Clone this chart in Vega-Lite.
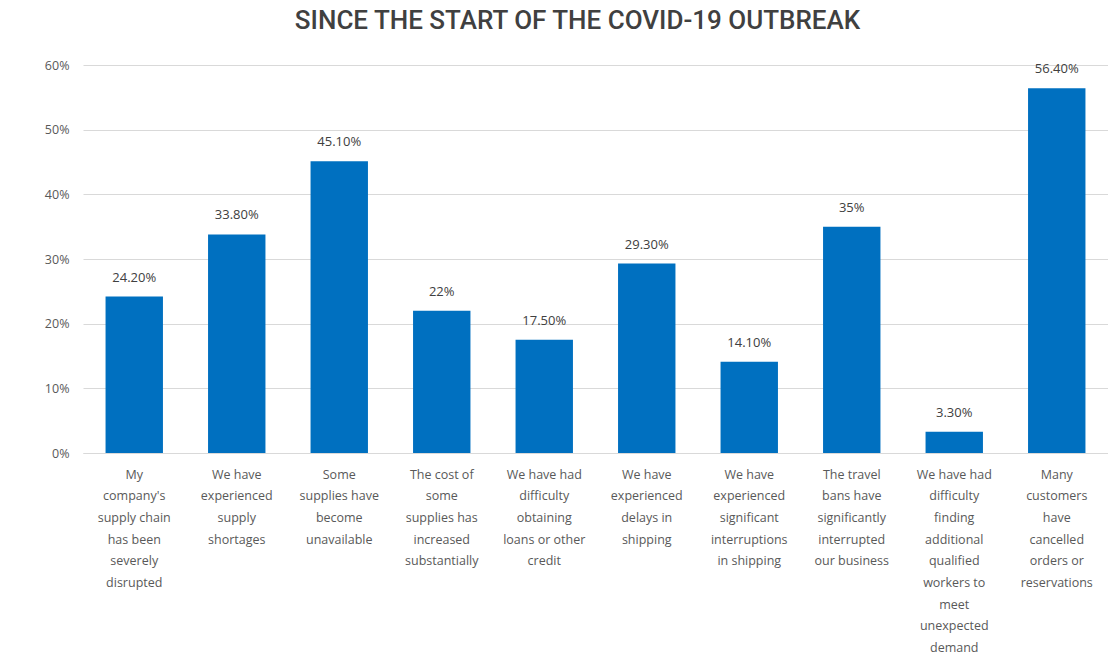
{
  "$schema": "https://vega.github.io/schema/vega-lite/v6.json",
  "autosize": "none",
  "width": 1025,
  "height": 388,
  "padding": {"left": 83, "top": 65, "right": 0, "bottom": 211},
  "background": "white",
  "title": {
    "text": "SINCE THE START OF THE COVID-19 OUTBREAK",
    "font": "Roboto",
    "fontSize": 26,
    "fontWeight": 500,
    "color": "#404040",
    "anchor": "middle",
    "offset": 25,
    "dx": -18
  },
  "data": {
    "values": [
      {"item": "My|company's|supply chain|has been|severely|disrupted", "order": 1, "share": 0.242, "label": "24.20%"},
      {"item": "We have|experienced|supply|shortages", "order": 2, "share": 0.338, "label": "33.80%"},
      {"item": "Some|supplies have|become|unavailable", "order": 3, "share": 0.451, "label": "45.10%"},
      {"item": "The cost of|some|supplies has|increased|substantially", "order": 4, "share": 0.22, "label": "22%"},
      {"item": "We have had|difficulty|obtaining|loans or other|credit", "order": 5, "share": 0.175, "label": "17.50%"},
      {"item": "We have|experienced|delays in|shipping", "order": 6, "share": 0.293, "label": "29.30%"},
      {"item": "We have|experienced|significant|interruptions|in shipping", "order": 7, "share": 0.141, "label": "14.10%"},
      {"item": "The travel|bans have|significantly|interrupted|our business", "order": 8, "share": 0.35, "label": "35%"},
      {"item": "We have had|difficulty|finding|additional|qualified|workers to|meet|unexpected|demand", "order": 9, "share": 0.033, "label": "3.30%"},
      {"item": "Many|customers|have|cancelled|orders or|reservations", "order": 10, "share": 0.564, "label": "56.40%"}
    ]
  },
  "encoding": {
    "x": {
      "field": "item",
      "type": "nominal",
      "sort": {"field": "order"},
      "scale": {"paddingInner": 0.44, "paddingOuter": 0.22},
      "axis": {
        "title": null,
        "labelAngle": 0,
        "labelExpr": "split(datum.label, '|')",
        "labelFont": "Open Sans",
        "labelFontSize": 12.5,
        "labelColor": "#595959",
        "labelLineHeight": 21.7,
        "labelPadding": 15,
        "labelBaseline": "top",
        "ticks": false,
        "domainColor": "#d9d9d9",
        "labelLimit": 200
      }
    },
    "y": {
      "field": "share",
      "type": "quantitative",
      "scale": {"domain": [0, 0.6]},
      "axis": {
        "title": null,
        "format": ".0%",
        "values": [0, 0.1, 0.2, 0.3, 0.4, 0.5, 0.6],
        "labelOverlap": false,
        "labelFont": "Open Sans",
        "labelFontSize": 12.5,
        "labelColor": "#595959",
        "labelPadding": 14,
        "ticks": false,
        "domain": false,
        "gridColor": "#d9d9d9"
      }
    }
  },
  "layer": [
    {"mark": {"type": "bar", "color": "#0070C0"}},
    {
      "mark": {"type": "text", "baseline": "bottom", "dy": -12, "font": "Open Sans", "fontSize": 13, "color": "#404040"},
      "encoding": {"text": {"field": "label"}}
    }
  ],
  "config": {"view": {"stroke": null}}
}
